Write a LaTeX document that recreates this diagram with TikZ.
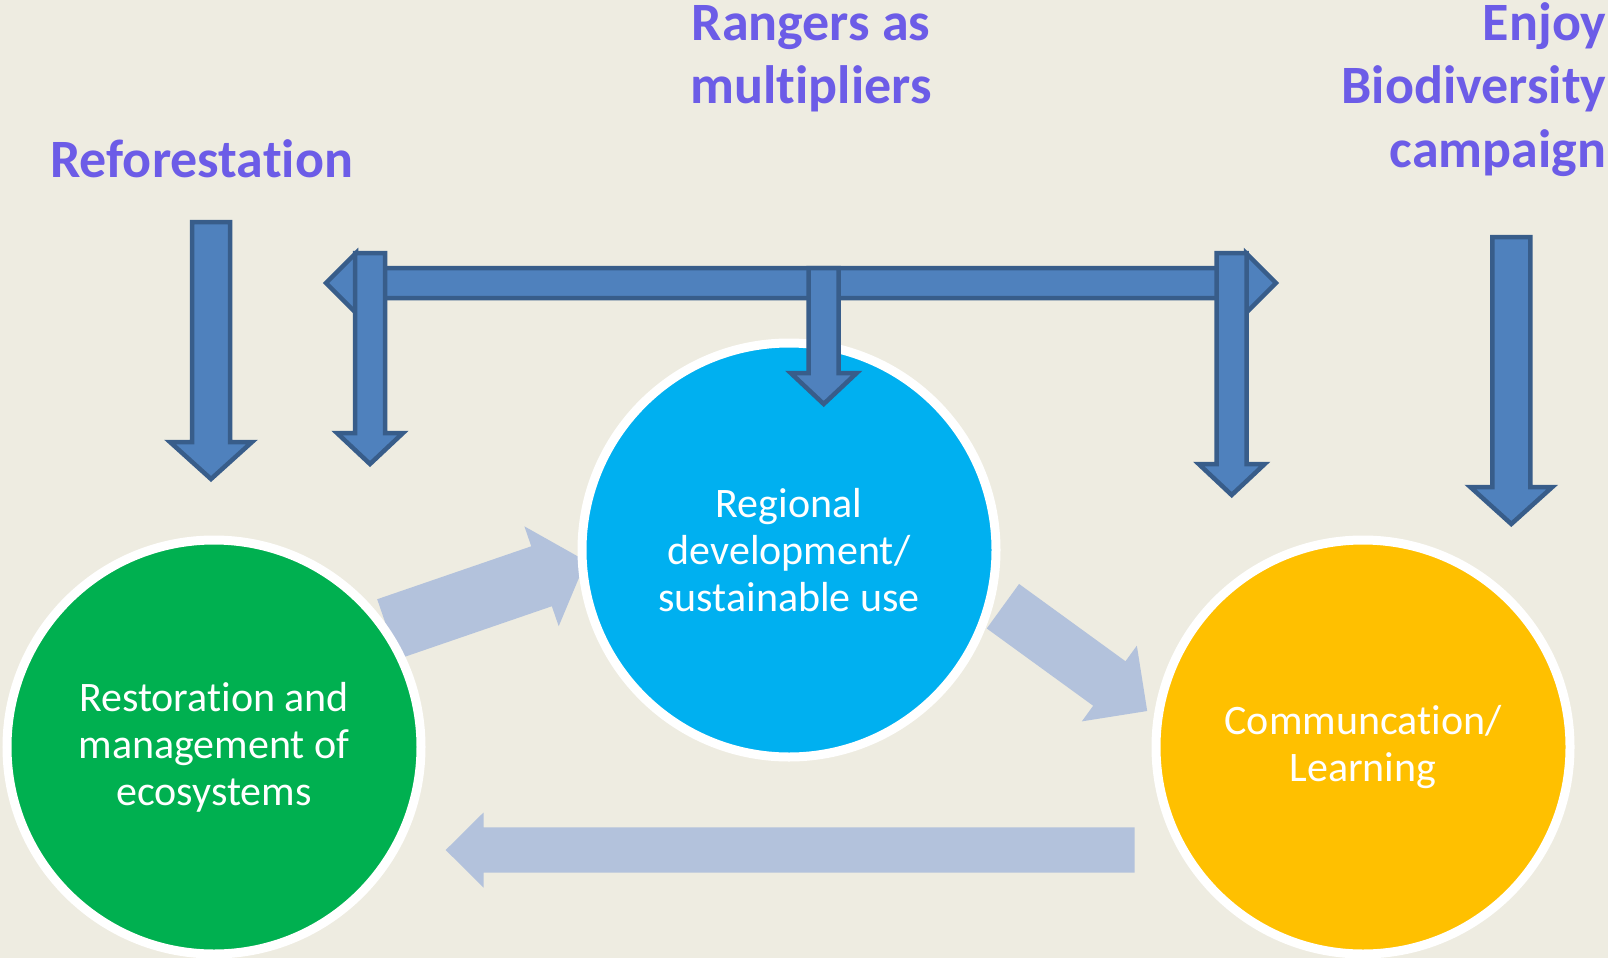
\documentclass[tikz,border=0pt]{standalone}
\usepackage{fontspec}
\setmainfont{Carlito}[Ligatures=NoCommon]
\usetikzlibrary{calc}

\definecolor{paper}{RGB}{238,236,225}
\definecolor{fieldgreen}{RGB}{0,176,80}
\definecolor{fieldsky}{RGB}{0,176,240}
\definecolor{fieldamber}{RGB}{255,192,0}
\definecolor{cyclefill}{RGB}{179,194,220}
\definecolor{actionfill}{RGB}{79,129,189}
\definecolor{actionline}{RGB}{56,93,138}
\definecolor{headblue}{RGB}{108,92,231}

% Block arrow from #2 to the tip #3: half shaft #4, half head #5, head length #6
\newcommand{\blockarrow}[6][]{%
    \coordinate (hb) at ($(#3)!#6!(#2)$);
    \path[#1] ($(#2)!#4!90:(#3)$) -- ($(hb)!#4!-90:(#2)$) -- ($(hb)!#5!-90:(#2)$) -- (#3)
        -- ($(hb)!#5!90:(#2)$) -- ($(hb)!#4!90:(#2)$) -- ($(#2)!#4!-90:(#3)$) -- cycle;
}

\begin{document}
\begin{tikzpicture}[
    x=1pt, y=-1pt,
    line join = miter,
    field/.style = {circle, draw = white, line width = 9pt, minimum size = 414pt,
                    inner sep = 0pt, text = white, align = center,
                    font = \fontsize{42}{47}\selectfont},
    headline/.style = {text = headblue, inner sep = 0pt,
                       font = \bfseries\fontsize{54}{63.5}\selectfont},
    cycle arrow/.style = {fill = cyclefill},
    action arrow/.style = {fill = actionfill, draw = actionline, line width = 4.5pt}
    ]

    % Determines the boundries
    \path [use as bounding box] (0,0) rectangle (1608,958);
    \fill [paper] (0,0) rectangle (1608,958);

    % Arrows between the fields, under the circles
    \coordinate (GB0) at (387.5,629.2);
    \coordinate (GB1) at (586,561);
    \coordinate (BO0) at (1002.9,606.2);
    \coordinate (BO1) at (1147.2,711);
    \coordinate (OG0) at (1134.5,850);
    \coordinate (OG1) at (445.7,850);

    \blockarrow[cycle arrow]{GB0}{GB1}{31.7pt}{52.8pt}{47pt}
    \blockarrow[cycle arrow]{BO0}{BO1}{27.5pt}{46.8pt}{46.8pt}
    \blockarrow[cycle arrow]{OG0}{OG1}{22.7pt}{37.5pt}{37.8pt}

    % The three fields
    \node (G) [field, fill = fieldgreen] at (214,747) {Restoration and\\management of\\ecosystems};
    \node (B) [field, fill = fieldsky] at (789,550) {Regional\\development/\\sustainable use};
    \node (O) [field, fill = fieldamber] at (1363,747) {Communcation/\\Learning};

    % Headlines (base is the last line)
    \node (Rf) [headline, anchor = base] at (201.7,177.3) {Reforestation};
    \node (Rg) [headline, align = center, anchor = base] at (811,103.5) {Rangers as\\multipliers};
    \node (Bd) [headline, align = right, anchor = base east] at (1606.5,167) {Enjoy\\Biodiversity\\campaign};

    % Rangers bar with its two heads
    \draw[action arrow] (326,283) -- (356,253) -- (356,268) -- (1246,268) -- (1246,253)
        -- (1276,283) -- (1246,313) -- (1246,298) -- (356,298) -- (356,313) -- cycle;

    % Downward arrows
    \foreach \n/\x/\t/\e/\w/\h/\l in
        {A/211/222/479/19pt/41pt/37pt, C/370/253/464/15pt/33pt/31pt,
         D/823.7/268/404/15pt/33pt/31pt, E/1231.7/253/495/15pt/33pt/31pt,
         F/1511.3/237/524/19pt/41pt/37pt}{
        \coordinate (\n0) at (\x,\t);
        \coordinate (\n1) at (\x,\e);
        \blockarrow[action arrow]{\n0}{\n1}{\w}{\h}{\l}
    }

\end{tikzpicture}
\end{document}
